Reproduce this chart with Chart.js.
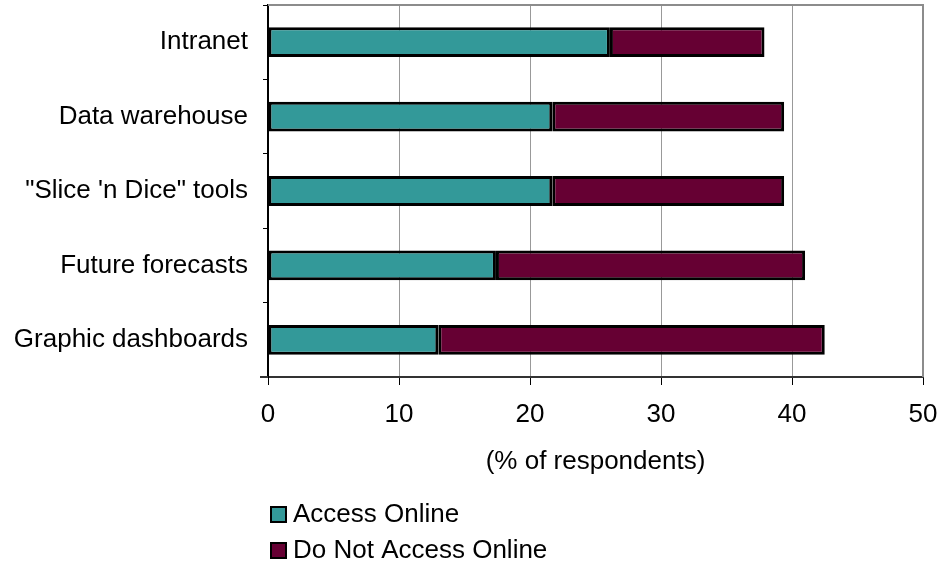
<!DOCTYPE html>
<html>
<head>
<meta charset="utf-8">
<script src="https://cdn.jsdelivr.net/npm/chart.js@4.4.0/dist/chart.umd.min.js"></script>
<style>
  body { margin: 0; background: #fff; }
  canvas { display: block; }
</style>
</head>
<body>
<canvas id="chart" width="941" height="566"></canvas>
<script>
// categories top to bottom, values in % of respondents
var categories = ["Intranet", "Data warehouse", "\"Slice 'n Dice\" tools", "Future forecasts", "Graphic dashboards"];
var accessOnline = [26.1, 21.7, 21.7, 17.4, 13.0];
var notAccessOnline = [11.8, 17.7, 17.7, 23.6, 29.5];
var xTicks = [0, 10, 20, 30, 40, 50];
var seriesNames = ["Access Online", "Do Not Access Online"];

var FONT = "Arial, 'Liberation Sans', sans-serif";

// gray frame on top and right side of the plot
var frame = {
  id: 'frame',
  beforeDatasetsDraw: function(chart) {
    var a = chart.chartArea, ctx = chart.ctx;
    ctx.save();
    ctx.strokeStyle = '#8c8c8c';
    ctx.lineWidth = 2;
    ctx.beginPath();
    ctx.moveTo(a.left, a.top);
    ctx.lineTo(a.right, a.top);
    ctx.lineTo(a.right, a.bottom);
    ctx.stroke();
    // axis line runs a little past the 0 tick
    ctx.strokeStyle = '#333';
    ctx.beginPath();
    ctx.moveTo(a.left - 8, a.bottom);
    ctx.lineTo(a.left, a.bottom);
    ctx.stroke();
    ctx.restore();
  }
};

// legend stacked in two rows below the axis title
var sideLegend = {
  id: 'sideLegend',
  afterDraw: function(chart) {
    var ctx = chart.ctx;
    ctx.save();
    chart.data.datasets.forEach(function(ds, i) {
      var y = 507 + i * 36;
      ctx.fillStyle = ds.backgroundColor;
      ctx.fillRect(271, y, 15, 15);
      ctx.strokeStyle = '#000';
      ctx.lineWidth = 2;
      ctx.strokeRect(271, y, 15, 15);
      ctx.fillStyle = '#000';
      ctx.font = '26px ' + FONT;
      ctx.textBaseline = 'middle';
      ctx.textAlign = 'left';
      ctx.fillText(ds.label, 293, y + 8);
    });
    ctx.restore();
  }
};

new Chart(document.getElementById("chart"), {
  type: 'bar',
  data: {
    labels: categories,
    datasets: [{
      label: seriesNames[0],
      data: accessOnline,
      backgroundColor: '#339999',
      borderColor: '#000',
      borderWidth: 3,
      borderSkipped: false
    }, {
      label: seriesNames[1],
      data: notAccessOnline,
      backgroundColor: '#660033',
      borderColor: '#000',
      borderWidth: 3,
      borderSkipped: false
    }]
  },
  options: {
    indexAxis: 'y',
    responsive: false,
    animation: false,
    barPercentage: 0.4,
    categoryPercentage: 1,
    layout: { padding: { top: 5, right: 18, left: 0, bottom: 89 } },
    plugins: {
      legend: { display: false },
      tooltip: { enabled: false }
    },
    scales: {
      x: {
        stacked: true,
        min: 0,
        max: 50,
        afterBuildTicks: function(axis) {
          axis.ticks = xTicks.map(function(v) { return { value: v }; });
        },
        afterFit: function(axis) {
          axis.height = 100;
          axis.paddingLeft = 0;
          axis.paddingRight = 0;
        },
        grid: { color: '#999', tickColor: '#000', tickLength: 8, lineWidth: 1 },
        border: { color: '#333', width: 2 },
        ticks: { color: '#000', padding: 14, font: { family: FONT, size: 26 } },
        title: {
          display: true,
          text: '(% of respondents)',
          color: '#000',
          padding: 0,
          font: { family: FONT, size: 26 }
        }
      },
      y: {
        stacked: true,
        afterFit: function(axis) {
          axis.width = 268;
          axis.paddingTop = 0;
          axis.paddingBottom = 0;
        },
        grid: { offset: true, drawOnChartArea: false, tickColor: '#000', tickLength: 5 },
        border: { color: '#000', width: 2 },
        ticks: { color: '#000', padding: 15, font: { family: FONT, size: 26 } }
      }
    }
  },
  plugins: [frame, sideLegend]
});
</script>
</body>
</html>
